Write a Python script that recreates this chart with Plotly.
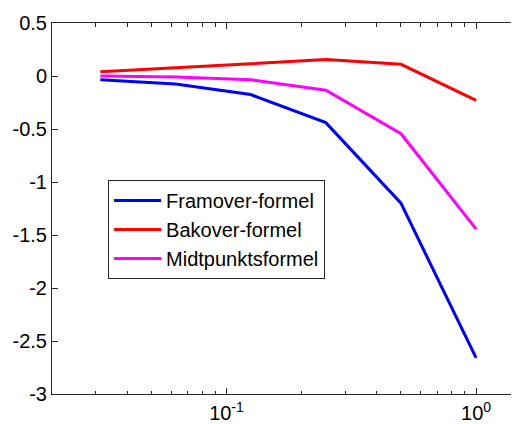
import plotly.graph_objects as go

h_values = [1/32, 1/16, 1/8, 1/4, 1/2, 1]
framover = [-0.035, -0.075, -0.175, -0.44, -1.2, -2.66]
bakover = [0.04, 0.075, 0.115, 0.155, 0.11, -0.23]
midtpunkt = [0.0, -0.01, -0.035, -0.135, -0.545, -1.445]

series_names = ["Framover-formel", "Bakover-formel", "Midtpunktsformel"]
series_colors = ["#0000ff", "#ff0000", "#ff00ff"]

y_ticks = [-3, -2.5, -2, -1.5, -1, -0.5, 0, 0.5]
y_ticktext = ["-3", "-2.5", "-2", "-1.5", "-1", "-0.5", "0", "0.5"]
x_ticks = [0.1, 1]
x_ticktext = ["10<sup>-1</sup>", "10<sup>0</sup>"]
x_minor = [0.02, 0.03, 0.04, 0.05, 0.06, 0.07, 0.08, 0.09,
           0.2, 0.3, 0.4, 0.5, 0.6, 0.7, 0.8, 0.9]

fig = go.Figure()
for name, vals, col in zip(series_names, [framover, bakover, midtpunkt], series_colors):
    fig.add_trace(go.Scatter(x=h_values, y=vals, mode="lines", name=name,
                             line=dict(color=col, width=3)))

axis_color = "#262626"
# page body has an 8px default margin, so the figure is sized/offset to compensate
fig.update_layout(
    width=511, height=416,
    margin=dict(l=44, r=0, t=15, b=30),
    paper_bgcolor="white", plot_bgcolor="white",
    font=dict(family="Liberation Sans, Arial, sans-serif", size=20, color="black"),
    showlegend=True,
    legend=dict(x=0.12, y=0.577, xanchor="left", yanchor="top",
                bgcolor="white", bordercolor=axis_color, borderwidth=1,
                font=dict(size=20), itemwidth=47,
                tracegroupgap=0),
    xaxis=dict(type="log", range=[-1.699, 0.172], automargin=False,
               tickmode="array", tickvals=x_ticks, ticktext=x_ticktext,
               ticks="inside", ticklen=6, tickcolor=axis_color,
               minor=dict(tickmode="array", tickvals=x_minor, ticks="inside",
                          ticklen=3.5, tickcolor=axis_color),
               showline=True, linecolor=axis_color, linewidth=1, mirror="allticks",
               showgrid=False, zeroline=False, ticklabelstandoff=1,
               tickfont=dict(size=20)),
    yaxis=dict(range=[-3, 0.5], automargin=False,
               tickmode="array", tickvals=y_ticks, ticktext=y_ticktext,
               ticks="inside", ticklen=6, tickcolor=axis_color,
               showline=True, linecolor=axis_color, linewidth=1, mirror="allticks",
               showgrid=False, zeroline=False,
               tickfont=dict(size=20)),
)

fig.write_html("out.html")
